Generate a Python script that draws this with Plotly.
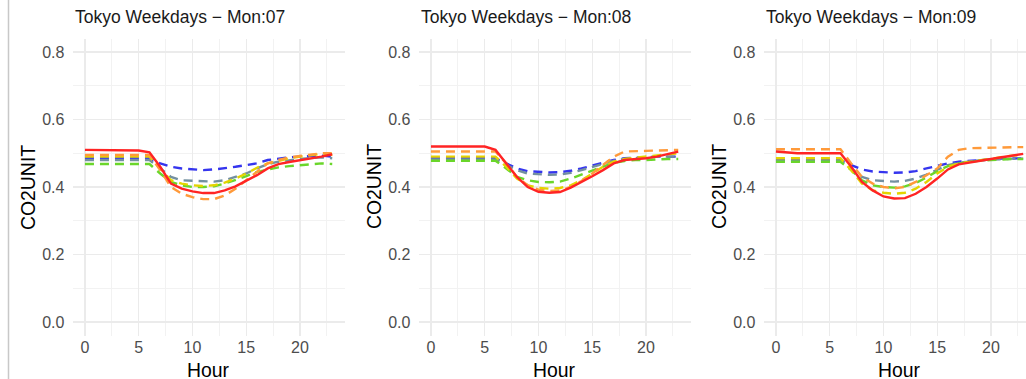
import plotly.graph_objects as go

hours = list(range(24))
panel_titles = ["Tokyo Weekdays \u2212 Mon:07", "Tokyo Weekdays \u2212 Mon:08", "Tokyo Weekdays \u2212 Mon:09"]
x_ticks = [0, 5, 10, 15, 20]
y_ticks = [0.0, 0.2, 0.4, 0.6, 0.8]

# Panel Mon:07
blue_07 = [0.485]*7 + [0.47, 0.46, 0.455, 0.452, 0.45, 0.452, 0.455, 0.46, 0.465, 0.47, 0.48, 0.485, 0.488, 0.49, 0.492, 0.493, 0.49]
gray_07 = [0.48]*7 + [0.455, 0.43, 0.42, 0.418, 0.416, 0.416, 0.42, 0.43, 0.44, 0.455, 0.468, 0.475, 0.48, 0.483, 0.486, 0.488, 0.485]
green_07 = [0.468]*7 + [0.44, 0.415, 0.405, 0.40, 0.40, 0.402, 0.41, 0.42, 0.432, 0.445, 0.452, 0.458, 0.462, 0.465, 0.468, 0.47, 0.468]
yellow_07 = [0.49]*7 + [0.455, 0.42, 0.41, 0.405, 0.403, 0.405, 0.413, 0.425, 0.44, 0.457, 0.47, 0.478, 0.485, 0.49, 0.495, 0.498, 0.495]
orange_07 = [0.495]*7 + [0.45, 0.40, 0.38, 0.37, 0.364, 0.364, 0.375, 0.395, 0.42, 0.445, 0.47, 0.48, 0.488, 0.492, 0.497, 0.50, 0.50]
red_07 = [0.51, 0.51, 0.51, 0.51, 0.51, 0.508, 0.503, 0.46, 0.41, 0.395, 0.387, 0.382, 0.382, 0.39, 0.402, 0.418, 0.435, 0.455, 0.468, 0.474, 0.479, 0.485, 0.49, 0.497]

# Panel Mon:08
blue_08 = [0.485]*7 + [0.47, 0.455, 0.447, 0.444, 0.443, 0.444, 0.448, 0.455, 0.463, 0.472, 0.48, 0.485, 0.487, 0.488, 0.49, 0.49, 0.49]
gray_08 = [0.482]*7 + [0.465, 0.45, 0.44, 0.437, 0.436, 0.437, 0.442, 0.45, 0.46, 0.47, 0.478, 0.483, 0.486, 0.488, 0.49, 0.49, 0.49]
green_08 = [0.478]*7 + [0.455, 0.43, 0.42, 0.415, 0.414, 0.416, 0.425, 0.437, 0.45, 0.462, 0.472, 0.477, 0.48, 0.48, 0.482, 0.483, 0.483]
yellow_08 = [0.49]*7 + [0.46, 0.425, 0.405, 0.397, 0.395, 0.397, 0.405, 0.42, 0.44, 0.46, 0.475, 0.483, 0.487, 0.49, 0.493, 0.497, 0.50]
orange_08 = [0.505]*7 + [0.47, 0.43, 0.405, 0.392, 0.388, 0.39, 0.40, 0.418, 0.44, 0.465, 0.49, 0.505, 0.507, 0.507, 0.508, 0.51, 0.51]
red_08 = [0.52, 0.52, 0.52, 0.52, 0.52, 0.52, 0.51, 0.47, 0.43, 0.40, 0.386, 0.383, 0.385, 0.398, 0.414, 0.432, 0.45, 0.47, 0.48, 0.482, 0.485, 0.49, 0.497, 0.505]

# Panel Mon:09
blue_09 = [0.48]*7 + [0.465, 0.452, 0.446, 0.443, 0.442, 0.443, 0.447, 0.455, 0.463, 0.47, 0.475, 0.478, 0.48, 0.482, 0.484, 0.485, 0.485]
gray_09 = [0.478]*7 + [0.455, 0.43, 0.42, 0.417, 0.416, 0.418, 0.425, 0.437, 0.452, 0.465, 0.472, 0.476, 0.479, 0.481, 0.483, 0.484, 0.484]
green_09 = [0.475]*7 + [0.45, 0.42, 0.405, 0.40, 0.398, 0.402, 0.412, 0.428, 0.447, 0.462, 0.47, 0.475, 0.478, 0.48, 0.482, 0.483, 0.483]
yellow_09 = [0.485]*7 + [0.45, 0.41, 0.39, 0.383, 0.38, 0.383, 0.395, 0.415, 0.44, 0.46, 0.47, 0.475, 0.48, 0.485, 0.49, 0.493, 0.495]
orange_09 = [0.512]*7 + [0.47, 0.43, 0.41, 0.40, 0.396, 0.40, 0.415, 0.435, 0.455, 0.49, 0.51, 0.515, 0.515, 0.515, 0.517, 0.518, 0.518]
red_09 = [0.505, 0.502, 0.50, 0.50, 0.50, 0.50, 0.50, 0.46, 0.415, 0.39, 0.372, 0.366, 0.367, 0.38, 0.40, 0.425, 0.452, 0.467, 0.473, 0.478, 0.483, 0.488, 0.493, 0.498]

panels = [
    [blue_07, gray_07, green_07, yellow_07, orange_07, red_07],
    [blue_08, gray_08, green_08, yellow_08, orange_08, red_08],
    [blue_09, gray_09, green_09, yellow_09, orange_09, red_09],
]
series_colors = ["#3535ee", "#7390a0", "#6ad62a", "#e3d400", "#ff9a3a", "#ff2424"]
series_dash = ["9px,6px"]*5 + ["solid"]

W, H = 1026, 379
x_dom_px = [(72.6, 344.6), (418.6, 690.6), (763.6, 1026)]
x_ranges = [[-1.15, 24.15], [-1.15, 24.15], [-1.15, (1026 - 763.6) / 10.75 - 1.15]]
y_top, y_bot = 38.5, 335.5
y_dom = [1 - y_bot / H, 1 - y_top / H]

FONT = "Liberation Sans, Arial, sans-serif"
fig = go.Figure()
layout = dict(
    width=W, height=H, margin=dict(l=0, r=0, t=0, b=0),
    paper_bgcolor="white", plot_bgcolor="white", showlegend=False,
    font=dict(family=FONT),
)
annotations = []
for i, series in enumerate(panels):
    n = "" if i == 0 else str(i + 1)
    for vals, col, dash in zip(series, series_colors, series_dash):
        fig.add_trace(go.Scatter(
            x=hours, y=vals, mode="lines", xaxis="x" + n, yaxis="y" + n,
            line=dict(color=col, width=2.4, dash=dash), hoverinfo="skip"))
    x0, x1 = x_dom_px[i]
    layout["xaxis" + n] = dict(
        domain=[x0 / W, x1 / W], range=x_ranges[i], anchor="y" + n,
        tickvals=x_ticks, showgrid=True, gridcolor="#ebebeb", gridwidth=1.3,
        zeroline=False, showline=False, ticks="",
        tickfont=dict(size=16, color="#4d4d4d", family=FONT),
        minor=dict(tickvals=[2.5, 7.5, 12.5, 17.5, 22.5], showgrid=True, gridcolor="#f2f2f2", gridwidth=1),
    )
    layout["yaxis" + n] = dict(
        domain=y_dom, range=[-0.04, 0.84], anchor="x" + n,
        tickvals=y_ticks, ticktext=["0.0", "0.2", "0.4", "0.6", "0.8"],
        showgrid=True, gridcolor="#ebebeb", gridwidth=1.3,
        zeroline=False, showline=False, ticks="outside", ticklen=4, tickcolor="rgba(0,0,0,0)",
        tickfont=dict(size=16, color="#4d4d4d", family=FONT),
        minor=dict(tickvals=[0.1, 0.3, 0.5, 0.7], showgrid=True, gridcolor="#f2f2f2", gridwidth=1),
    )
    annotations.append(dict(
        text=panel_titles[i], xref="paper", yref="paper", x=x0 / W, y=1 - 17 / H,
        xanchor="left", yanchor="middle", showarrow=False,
        font=dict(size=17.5, color="#1a1a1a", family=FONT)))
    annotations.append(dict(
        text="Hour", xref="paper", yref="paper", x=((x0 + x0 + 272) / 2) / W,
        y=1 - 370 / H, xanchor="center", yanchor="middle", showarrow=False,
        font=dict(size=19.4, color="black", family=FONT)))
    annotations.append(dict(
        text="CO2UNIT", xref="paper", yref="paper", x=(x0 - 44.6) / W, y=1 - 187 / H,
        xanchor="center", yanchor="middle", textangle=-90, showarrow=False,
        font=dict(size=19.4, color="black", family=FONT)))

layout["annotations"] = annotations
layout["shapes"] = [dict(type="line", xref="paper", yref="paper", x0=8.5 / W, x1=8.5 / W, y0=0, y1=1,
                         line=dict(color="#c8c8c8", width=1.5))]
fig.update_layout(**layout)
fig.write_html("out.html", config={"displayModeBar": False, "staticPlot": True},
               post_script="document.body.style.margin='0';document.body.style.overflow='hidden';")
